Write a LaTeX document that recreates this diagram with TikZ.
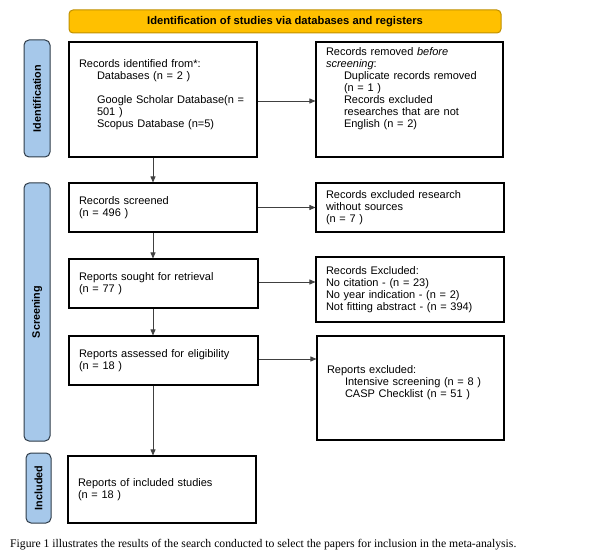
\documentclass[tikz,border=0pt]{standalone}
\usepackage{fontspec}
\setmainfont{Liberation Sans}
\newfontfamily\capfont{Liberation Serif}
\usetikzlibrary{arrows.meta}
\definecolor{headfill}{HTML}{FFC000}
\definecolor{headborder}{HTML}{BF9000}
\definecolor{phasefill}{HTML}{A6C8EA}
\definecolor{phaseborder}{HTML}{2E3B48}
\definecolor{linkgray}{HTML}{404040}

\begin{document}
\begin{tikzpicture}[x=1pt,y=-1pt,
    font=\fontsize{11}{12}\selectfont,
    stagebox/.style={draw=black,line width=1.1pt,fill=white,align=left,
      inner xsep=10pt,inner ysep=4pt,anchor=center},
    phaselabel/.style={draw=phaseborder,fill=phasefill,line width=1pt,
      rounded corners=5pt,rotate=90,minimum height=26pt,inner sep=0pt,
      font=\fontsize{10.8}{12}\selectfont\bfseries},
    flow/.style={linkgray,line width=0.8pt,-{Triangle[length=6pt,width=5pt]}}]
  % Page frame: 595 x 556 px, y runs downward.
  \useasboundingbox (0,0) rectangle (595,556);

  % Header bar.
  \node[draw=headborder,fill=headfill,line width=1pt,rounded corners=4pt,
    minimum width=432pt,minimum height=23pt,inner sep=0pt,
    font=\fontsize{11.2}{12}\selectfont\bfseries] (header) at (285,21.5)
    {Identification of studies via databases and registers};

  % Phase labels on the left.
  \node[phaselabel,minimum width=117pt] (phaseid) at (37,98.5) {Identification};
  \node[phaselabel,minimum width=258pt] (phasescr) at (37,312) {Screening};
  \node[phaselabel,minimum width=70pt,minimum height=25pt] (phaseinc) at (38.5,488) {Included};

  % Main column.
  \node[stagebox,text width=168pt,minimum height=115pt] (identified) at (163,99.5)
    {Records identified from*:\\
     \hspace*{18pt}Databases (n = 2 )\\[12pt]
     \hspace*{18pt}Google Scholar Database(n =\\
     \hspace*{18pt}501 )\\
     \hspace*{18pt}Scopus Database (n=5)\\
     \mbox{}};
  \node[stagebox,text width=168pt,minimum height=49pt] (screened) at (163,207.5)
    {Records screened\\(n = 496 )};
  \node[stagebox,text width=169pt,minimum height=49pt] (sought) at (163.5,283.5)
    {Reports sought for retrieval\\(n = 77 )};
  \node[stagebox,text width=169pt,minimum height=49pt] (assessed) at (163.5,360.5)
    {Reports assessed for eligibility\\(n = 18 )};
  \node[stagebox,text width=168pt,minimum height=67pt] (included) at (162,489.5)
    {Reports of included studies\\(n = 18 )};

  % Exclusion column.
  \node[stagebox,text width=167pt,minimum height=115pt] (removed) at (409.5,99.5)
    {Records removed \textit{before}\\
     \textit{screening}:\\
     \hspace*{18pt}Duplicate records removed\\
     \hspace*{18pt}(n = 1 )\\
     \hspace*{18pt}Records excluded\\
     \hspace*{18pt}researches that are not\\
     \hspace*{18pt}English (n = 2)\\[12pt]
     \mbox{}};
  \node[stagebox,text width=168pt,minimum height=49pt] (nosource) at (410,207.5)
    {Records excluded research\\without sources\\(n = 7 )};
  \node[stagebox,text width=168pt,minimum height=65pt] (recexcl) at (410,289.5)
    {Records Excluded:\\
     No citation - (n = 23)\\
     No year indication - (n = 2)\\
     Not fitting abstract - (n = 394)};
  \node[stagebox,text width=167pt,minimum height=104pt] (repexcl) at (410.5,388)
    {Reports excluded:\\
     \hspace*{18pt}Intensive screening (n = 8 )\\
     \hspace*{18pt}CASP Checklist (n = 51 )\\
     \mbox{}};

  % Downward links.
  \draw[flow] ([xshift=-10pt]identified.south) -- ([xshift=-10pt]identified.south |- screened.north);
  \draw[flow] ([xshift=-10pt]screened.south) -- ([xshift=-10pt]screened.south |- sought.north);
  \draw[flow] ([xshift=-10.5pt]sought.south) -- ([xshift=-10.5pt]sought.south |- assessed.north);
  \draw[flow] ([xshift=-10.5pt]assessed.south) -- ([xshift=-10.5pt]assessed.south |- included.north);

  % Links to exclusions.
  \draw[flow] ([yshift=-1.5pt]identified.east) -- ([yshift=-1.5pt]identified.east -| removed.west);
  \draw[flow] (screened.east) -- (screened.east -| nosource.west);
  \draw[flow] ([yshift=1.5pt]sought.east) -- ([yshift=1.5pt]sought.east -| recexcl.west);
  \draw[flow] ([yshift=1.5pt]assessed.east) -- ([yshift=1.5pt]assessed.east -| repexcl.west);

  % Caption.
  \node[anchor=west,inner sep=0pt,font=\capfont\fontsize{11.7}{13}\selectfont] (caption) at (10,545)
    {Figure 1 illustrates the results of the search conducted to select the papers for inclusion in the meta-analysis.};
\end{tikzpicture}
\end{document}
